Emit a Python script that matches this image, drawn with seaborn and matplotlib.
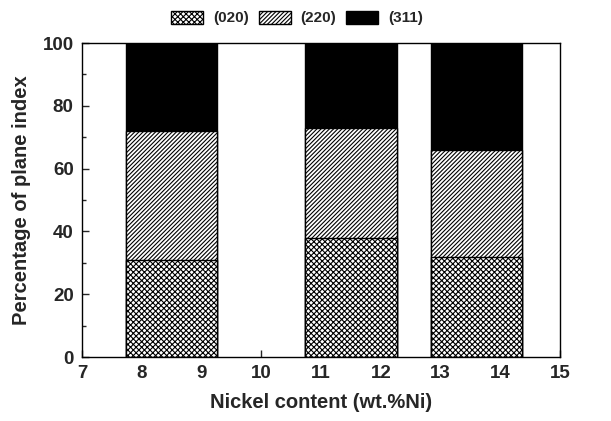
import matplotlib
matplotlib.use("Agg")
import matplotlib.pyplot as plt
import seaborn as sns
import pandas as pd
import numpy as np
from matplotlib.ticker import MultipleLocator

# Data
ni_content = [8.5, 11.5, 13.6]
p020 = [31, 38, 32]
p220 = [41, 35, 34]
p311 = [28, 27, 34]
legend_labels = ["(020)", "(220)", "(311)"]

df = pd.DataFrame({"Ni": ni_content, "p020": p020, "p220": p220, "p311": p311})
df["c1"] = df["p020"]
df["c2"] = df["c1"] + df["p220"]
df["c3"] = df["c2"] + df["p311"]

sns.set_theme(style="white")
plt.rcParams["font.family"] = ["Liberation Sans", "DejaVu Sans"]
plt.rcParams["font.weight"] = "bold"
plt.rcParams["hatch.linewidth"] = 0.8

fig = plt.figure(figsize=(6.11, 4.21), dpi=100)
ax = fig.add_axes([82/611, 1-357/421, (560-82)/611, (357-43)/421])

w = 1.53 / 2.1
common = dict(x="Ni", native_scale=True, orient="x", errorbar=None,
              width=w, edgecolor="black", linewidth=1.0, ax=ax)
sns.barplot(data=df, y="c3", color="black", label=legend_labels[2], **common)
sns.barplot(data=df, y="c2", color="white", hatch="////////", label=legend_labels[1], **common)
sns.barplot(data=df, y="c1", color="white", hatch="xxxxxx", label=legend_labels[0], **common)

if ax.get_legend() is not None:
    ax.get_legend().remove()

ax.set_xlim(7, 15)
ax.set_ylim(0, 100)
ax.xaxis.set_major_locator(MultipleLocator(1))
ax.yaxis.set_major_locator(MultipleLocator(20))
ax.yaxis.set_minor_locator(MultipleLocator(10))
ax.tick_params(axis="both", which="major", direction="in", length=5, width=1,
               labelsize=13.5, pad=6, bottom=True, left=True)
ax.tick_params(axis="y", which="minor", direction="in", length=3, width=1, left=True)
for lab in ax.get_xticklabels() + ax.get_yticklabels():
    lab.set_fontweight("bold")
for s in ax.spines.values():
    s.set_color("black")
    s.set_linewidth(1.0)

ax.set_xlabel("Nickel content (wt.%Ni)", fontsize=14.5, fontweight="bold", labelpad=8)
ax.set_ylabel("Percentage of plane index", fontsize=14.5, fontweight="bold", labelpad=8)

handles, labels = ax.get_legend_handles_labels()
order = [labels.index(l) for l in legend_labels]
leg = fig.legend([handles[i] for i in order], [labels[i] for i in order],
                 loc="center", bbox_to_anchor=(297/611, 1-18/421), ncol=3,
                 frameon=False, handlelength=2.1, handleheight=0.95,
                 handletextpad=0.65, columnspacing=0.65,
                 prop={"weight": "bold", "size": 11})

fig.savefig("out.png", dpi=100)
